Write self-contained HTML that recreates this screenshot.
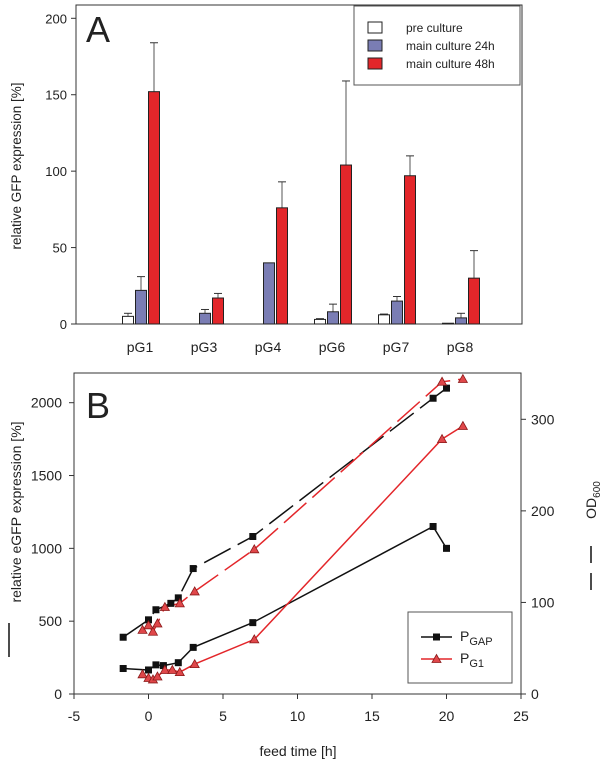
<!DOCTYPE html>
<html><head><meta charset="utf-8"><style>
body{margin:0;background:#fff;font-family:"Liberation Sans",sans-serif}
svg text{font-family:"Liberation Sans",sans-serif;fill:#222}
</style></head><body>
<svg id="chart" width="600" height="763" xmlns="http://www.w3.org/2000/svg">
<g id="pa"></g>
<g id="pb"></g>
</svg>
<script>
// Panel A data
const groups=["pG1","pG3","pG4","pG6","pG7","pG8"];
const preVals=[5,0,0,3,6,0.5];
const preErr=[7,0,0,3.5,6.5,0.5];
const h24Vals=[22,7,40,8,15,4];
const h24Err=[31,9.5,40,13,18,7];
const h48Vals=[152,17,76,104,97,30];
const h48Err=[184,20,93,159,110,48];
const aTicks=[0,50,100,150,200];
// Panel B data
const gapTime=[-1.7,0,0.5,1,2,3,7,19.1,20];
const gapExpr=[175,165,200,195,215,320,490,1150,1000];
const gapOdTime=[-1.7,0,0.5,1.5,2,3,7,19.1,20];
const gapOd=[62,81,92,99,105,137,172,323,334];
const g1Time=[-0.4,0,0.3,0.6,1.1,1.6,2.1,3.1,7.1,19.7,21.1];
const g1Expr=[135,110,100,120,165,165,150,205,375,1750,1840];
const g1OdTime=[-0.4,0,0.3,0.6,1.1,2.1,3.1,7.1,19.7,21.1];
const g1Od=[70,75,68,77,95,99,112,158,341,344];
const bXTicks=[-5,0,5,10,15,20,25];
const bLTicks=[0,500,1000,1500,2000];
const bRTicks=[0,100,200,300];

const NS="http://www.w3.org/2000/svg";
function mk(p,t,a,txt){const e=document.createElementNS(NS,t);for(const k in a)e.setAttribute(k,a[k]);if(txt!==undefined)e.textContent=txt;p.appendChild(e);return e;}

// ---- Panel A
const pa=document.getElementById('pa');
const aL=76,aR=522,aT=5,aB=324;
const ay=v=>aB-v*(aB-18.3)/200;
const ax=i=>140+i*64;
let fr=mk(pa,'rect',{x:aL,y:aT,width:aR-aL,height:aB-aT,fill:'none',stroke:'#333','stroke-width':1});

aTicks.forEach(t=>{let l=mk(pa,'line',{x1:aL-5,x2:aL,y1:ay(t),y2:ay(t),stroke:'#333'});

let tx=mk(pa,'text',{x:aL-9,y:ay(t)+5,'text-anchor':'end','font-size':13},t);
});
let yl=mk(pa,'text',{transform:'translate(21,166) rotate(-90)','text-anchor':'middle','font-size':13.5},'relative GFP expression [%]');

let la=mk(pa,'text',{x:86,y:42,'font-size':36},'A');
const series=[[preVals,preErr,'#ffffff',-12],[h24Vals,h24Err,'#7a7db4',1],[h48Vals,h48Err,'#e3262a',14]];
groups.forEach((g,i)=>{
 series.forEach(([v,e,c,off])=>{
  const x=ax(i)+off-5.5;
  if(e[i]>v[i]){let el=mk(pa,'line',{x1:x+5.5,x2:x+5.5,y1:ay(e[i]),y2:ay(v[i]),stroke:'#555'});
   
   let cp=mk(pa,'line',{x1:x+1.5,x2:x+9.5,y1:ay(e[i]),y2:ay(e[i]),stroke:'#333'});
   }
  let b=mk(pa,'rect',{x:x,y:ay(v[i]),width:11,height:aB-ay(v[i]),fill:c,stroke:'#222','stroke-width':1});
  
 });
 let t=mk(pa,'text',{x:ax(i),y:352,'text-anchor':'middle','font-size':14},g);
 
});
let lg=mk(pa,'rect',{x:354,y:6,width:166,height:79,fill:'#fff',stroke:'#555'});

[['pre culture','#fff'],['main culture 24h','#7a7db4'],['main culture 48h','#e3262a']].forEach(([n,c],k)=>{
 let r=mk(pa,'rect',{x:368,y:22+k*18,width:14,height:11,fill:c,stroke:'#222'});
 
 let t=mk(pa,'text',{x:406,y:32+k*18,'font-size':12},n);
 
});

// ---- Panel B
const pb=document.getElementById('pb');
const bL=74,bR=521,bT=373,bB=694;
const bx=v=>bL+(v+5)*(bR-bL)/30;
const byL=v=>bB-v*(bB-402.7)/2000;
const byR=v=>bB-v*(bB-419.3)/300;
let fb=mk(pb,'path',{d:`M${bL},${bB}V${bT}H${bR}V${bB}H${bL}`,fill:'none',stroke:'#333'});

bXTicks.forEach(t=>{let l=mk(pb,'line',{x1:bx(t),x2:bx(t),y1:bB,y2:bB+5,stroke:'#333'});

let tx=mk(pb,'text',{x:bx(t),y:721,'text-anchor':'middle','font-size':14},t);
});
bLTicks.forEach(t=>{let l=mk(pb,'line',{x1:bL-5,x2:bL,y1:byL(t),y2:byL(t),stroke:'#333'});

let tx=mk(pb,'text',{x:bL-12,y:byL(t)+5,'text-anchor':'end','font-size':14},t);
});
bRTicks.forEach(t=>{let l=mk(pb,'line',{x1:bR,x2:bR+5,y1:byR(t),y2:byR(t),stroke:'#333'});

let tx=mk(pb,'text',{x:bR+10,y:byR(t)+5,'font-size':14},t);
});
let xl=mk(pb,'text',{x:298,y:756,'text-anchor':'middle','font-size':14},'feed time [h]');

let ylb=mk(pb,'text',{transform:'translate(21,512) rotate(-90)','text-anchor':'middle','font-size':14},'relative eGFP expression [%]');

let yll=mk(pb,'line',{x1:9,x2:9,y1:623,y2:657,stroke:'#111','stroke-width':1.5});

let yr=mk(pb,'text',{transform:'translate(596,500) rotate(-90)','text-anchor':'middle','font-size':14});

yr.innerHTML='OD<tspan font-size="10" dy="4">600</tspan>';
let yrd=mk(pb,'line',{x1:591,x2:591,y1:546,y2:592,stroke:'#111','stroke-width':1.5,'stroke-dasharray':'17 10'});

let lb=mk(pb,'text',{x:86,y:418,'font-size':36},'B');
function line(xs,ys,yf,c,dash,name){
 const d=xs.map((x,i)=>(i?'L':'M')+bx(x).toFixed(1)+','+yf(ys[i]).toFixed(1)).join('');
 const a={d:d,fill:'none',stroke:c,'stroke-width':1.5};if(dash)a['stroke-dasharray']=dash;
 let p=mk(pb,'path',a);
}
function sq(xs,ys,yf,name){xs.forEach((x,i)=>{let r=mk(pb,'rect',{x:bx(x)-3.5,y:yf(ys[i])-3.5,width:7,height:7,fill:'#111'});
 });}
function tri(xs,ys,yf,name){xs.forEach((x,i)=>{const X=bx(x),Y=yf(ys[i]);
 let p=mk(pb,'path',{d:`M${X},${Y-4.5}L${X+4.5},${Y+3.5}L${X-4.5},${Y+3.5}Z`,fill:'#e0474a',stroke:'#8b1a1a','stroke-width':0.8});
 });}
line(gapOdTime,gapOd,byR,'#111','30 8','pgap-od-line');
line(g1OdTime,g1Od,byR,'#e3262a','30 8','pg1-od-line');
line(gapTime,gapExpr,byL,'#111',null,'pgap-expression-line');
line(g1Time,g1Expr,byL,'#e3262a',null,'pg1-expression-line');
sq(gapOdTime,gapOd,byR,'pgap-od-point');
tri(g1OdTime,g1Od,byR,'pg1-od-point');
sq(gapTime,gapExpr,byL,'pgap-expression-point');
tri(g1Time,g1Expr,byL,'pg1-expression-point');
let lgb=mk(pb,'rect',{x:408,y:612,width:104,height:71,fill:'#fff',stroke:'#555'});

let l1=mk(pb,'line',{x1:421,x2:452,y1:637,y2:637,stroke:'#111','stroke-width':1.5});
let s1=mk(pb,'rect',{x:433,y:633.5,width:7,height:7,fill:'#111'});
let t1=mk(pb,'text',{x:460,y:641,'font-size':14});
t1.innerHTML='P<tspan font-size="11" dy="4">GAP</tspan>';
let l2=mk(pb,'line',{x1:421,x2:452,y1:659,y2:659,stroke:'#e3262a','stroke-width':1.5});
let s2=mk(pb,'path',{d:'M436.5,654.5L441,662.5L432,662.5Z',fill:'#e0474a',stroke:'#8b1a1a','stroke-width':0.8});
let t2=mk(pb,'text',{x:460,y:663,'font-size':14});
t2.innerHTML='P<tspan font-size="11" dy="4">G1</tspan>';
</script>
</body></html>
